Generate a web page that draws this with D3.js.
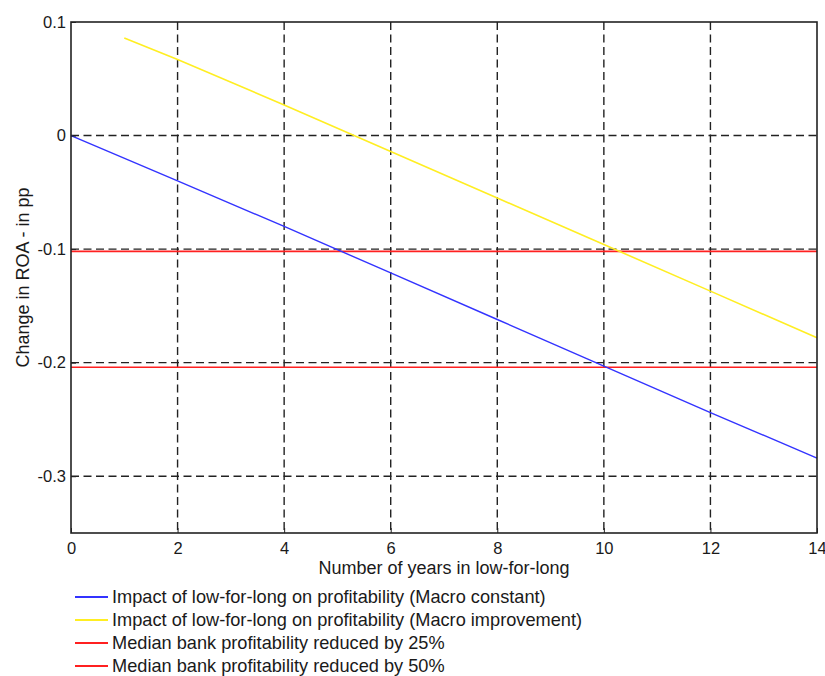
<!DOCTYPE html>
<html>
<head>
<meta charset="utf-8">
<script src='https://d3js.org/d3.v7.min.js'></script>

<style>
  body {
    margin: 0;
    background: #fff;
  }

  svg text {
    fill: #1a1a1a;
    font-family: "Liberation Sans", Arial, sans-serif;
  }

  .grid line {
    stroke: #222;
    stroke-width: 1.4;
    stroke-dasharray: 8 4.5;
  }
</style>
</head>
<body>
<script>
  // values
  var blueYears = [0, 2, 4, 6, 8, 10, 12, 14];
  var blueVals = [0, -0.040, -0.080, -0.121, -0.162, -0.203, -0.244, -0.284];
  var yellowYears = [1, 2, 4, 6, 8, 10, 12, 14];
  var yellowVals = [0.086, 0.067, 0.027, -0.014, -0.055, -0.096, -0.137, -0.178];
  var redLevels = [-0.102, -0.204];
  var xTicks = [0, 2, 4, 6, 8, 10, 12, 14];
  var yTicks = [0.1, 0, -0.1, -0.2, -0.3];
  var legendLabels = [
    "Impact of low-for-long on profitability (Macro constant)",
    "Impact of low-for-long on profitability (Macro improvement)",
    "Median bank profitability reduced by 25%",
    "Median bank profitability reduced by 50%"
  ];
  var legendColors = ["#3333ff", "#ffee22", "#ff2020", "#ff2020"];

  var pLeft = 71, pRight = 817, pTop = 22, pBottom = 533;

  var svg = d3.select("body")
    .append("svg")
    .attr("width", 825)
    .attr("height", 676);

  var x = d3.scaleLinear().domain([0, 14]).range([pLeft, pRight]);
  var y = d3.scaleLinear().domain([-0.35, 0.1]).range([pBottom, pTop]);

  // dashed grid
  var grid = svg.append("g").attr("class", "grid");
  grid.selectAll("line.v")
    .data(xTicks.slice(1, -1))
    .enter()
    .append("line")
    .attr("x1", function(d) { return x(d); })
    .attr("x2", function(d) { return x(d); })
    .attr("y1", pTop)
    .attr("y2", pBottom);
  grid.selectAll("line.h")
    .data(yTicks.slice(1))
    .enter()
    .append("line")
    .attr("x1", pLeft)
    .attr("x2", pRight)
    .attr("y1", function(d) { return y(d); })
    .attr("y2", function(d) { return y(d); });

  // red reference lines
  svg.selectAll("line.red")
    .data(redLevels)
    .enter()
    .append("line")
    .attr("x1", pLeft)
    .attr("x2", pRight)
    .attr("y1", function(d) { return y(d); })
    .attr("y2", function(d) { return y(d); })
    .attr("stroke", "#ff2020")
    .attr("stroke-width", 1.6);

  var line = d3.line()
    .x(function(d) { return x(d[0]); })
    .y(function(d) { return y(d[1]); });

  svg.append("path")
    .datum(d3.zip(yellowYears, yellowVals))
    .attr("d", line)
    .attr("fill", "none")
    .attr("stroke", "#ffee22")
    .attr("stroke-width", 1.6);

  svg.append("path")
    .datum(d3.zip(blueYears, blueVals))
    .attr("d", line)
    .attr("fill", "none")
    .attr("stroke", "#3333ff")
    .attr("stroke-width", 1.4);

  // axes (ticks inward)
  var xAxis = svg.append("g")
    .attr("transform", "translate(0," + pBottom + ")")
    .call(d3.axisBottom(x).tickValues(xTicks).tickSize(-5).tickPadding(9).tickFormat(d3.format("d")));
  var yAxis = svg.append("g")
    .attr("transform", "translate(" + pLeft + ",0)")
    .call(d3.axisLeft(y).tickValues(yTicks).tickSize(-5).tickPadding(5).tickFormat(function(d) {
      return d === 0 ? "0" : d3.format(".1f")(d).replace("\u2212", "-");
    }));

  [xAxis, yAxis].forEach(function(a) {
    a.select(".domain").remove();
    a.selectAll(".tick line").attr("stroke", "#222").attr("stroke-width", 1);
    a.selectAll("text").attr("font-size", 16.5).attr("font-family", "Liberation Sans, Arial, sans-serif").attr("fill", "#1a1a1a");
  });

  // frame
  svg.append("rect")
    .attr("x", pLeft)
    .attr("y", pTop)
    .attr("width", pRight - pLeft)
    .attr("height", pBottom - pTop)
    .attr("fill", "none")
    .attr("stroke", "#222")
    .attr("stroke-width", 1.6);

  svg.append("text")
    .attr("x", (pLeft + pRight) / 2)
    .attr("y", 574)
    .attr("font-size", 18)
    .attr("text-anchor", "middle")
    .text("Number of years in low-for-long");

  svg.append("text")
    .attr("transform", "translate(29," + ((pTop + pBottom) / 2) + ") rotate(-90)")
    .attr("font-size", 18)
    .attr("text-anchor", "middle")
    .text("Change in ROA - in pp");

  // legend
  var leg = svg.selectAll("g.leg")
    .data(legendLabels)
    .enter()
    .append("g")
    .attr("transform", function(d, i) {
      return "translate(75," + (597 + i * 23) + ")";
    });

  leg.append("line")
    .attr("x1", 0)
    .attr("x2", 33)
    .attr("stroke", function(d, i) { return legendColors[i]; })
    .attr("stroke-width", 1.8);

  leg.append("text")
    .attr("x", 37)
    .attr("dy", "0.35em")
    .attr("font-size", 18.2)
    .text(function(d) { return d; });
</script>
</body>
</html>
